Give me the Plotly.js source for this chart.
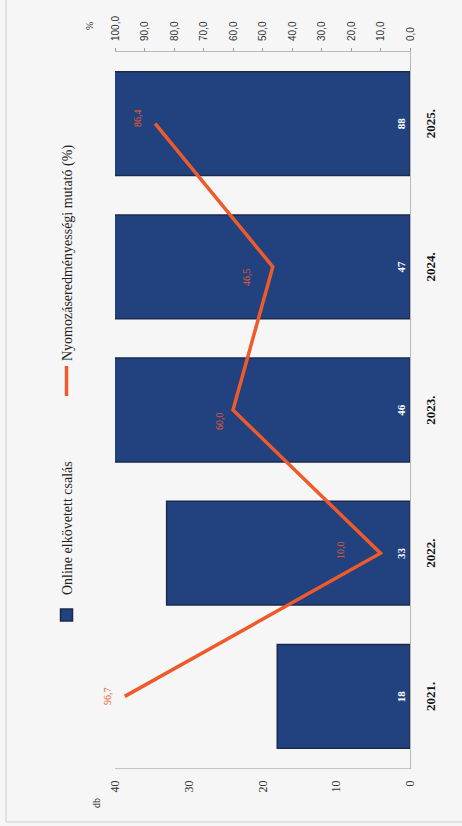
<!DOCTYPE html>
<html>
<head>
<meta charset="utf-8">
<script src="https://cdn.plot.ly/plotly-3.0.1.min.js"></script>
<style>
  html, body { margin: 0; padding: 0; width: 462px; height: 826px; overflow: hidden; background: #f6f6f6; }
  #chart {
    position: absolute; left: 0; top: 0;
    width: 826px; height: 462px;
    transform-origin: 0 0;
    transform: translate(0, 826px) rotate(-90deg);
  }
</style>
</head>
<body>
<div id="chart"></div>
<script>
// ---- data ----
const years = ["2021.", "2022.", "2023.", "2024.", "2025."];
const fraudCounts = [18, 33, 46, 47, 88];
const successRate = [96.7, 10.0, 60.0, 46.5, 86.4];
const barName = "Online elkövetett csalás";
const lineName = "Nyomozáseredményességi mutató (%)";
const leftTicks = [0, 10, 20, 30, 40];
const rightTicks = [0, 10, 20, 30, 40, 50, 60, 70, 80, 90, 100];

// ---- style ----
const serif = '"Liberation Serif", "Times New Roman", serif';
const sans = '"Liberation Sans", Arial, sans-serif';
const barColor = '#22417f';
const barEdge = '#1b2a4c';
const lineColor = '#ee5a2a';
const labelDY = [17, 40, 14, 26, 18];
const labelDX = [0, 3, -11, -10, 6];

const fmt = v => v.toFixed(1).replace('.', ',');

const bars = {
  type: 'bar', name: barName, x: years, y: fraudCounts, legend: 'legend',
  marker: { color: barColor, line: { color: barEdge, width: 1.5 } },
  text: fraudCounts.map(String), textposition: 'inside', insidetextanchor: 'start',
  textangle: 0, constraintext: 'none',
  textfont: { family: serif, size: 11, color: '#ffffff', weight: 'bold' },
  hoverinfo: 'skip'
};
const line = {
  type: 'scatter', mode: 'lines', name: lineName, x: years, y: successRate, yaxis: 'y2',
  legend: 'legend2',
  line: { color: lineColor, width: 3.5 },
  hoverinfo: 'skip'
};

// category axis: annotations use the category index
const annotations = successRate.map((v, i) => ({
  x: i, y: v, xref: 'x', yref: 'y2', text: fmt(v), showarrow: false,
  yshift: labelDY[i], xshift: labelDX[i],
  font: { family: serif, size: 10, color: lineColor }
}));
annotations.push({ xref: 'paper', yref: 'paper', x: -0.049, y: 1.064, text: 'db', showarrow: false,
  xanchor: 'center', yanchor: 'middle',
  font: { family: serif, size: 10, color: '#222' } });
annotations.push({ xref: 'paper', yref: 'paper', x: 1.036, y: 1.088, text: '%', showarrow: false,
  xanchor: 'center', yanchor: 'middle',
  font: { family: serif, size: 10, color: '#222' } });

const legendBase = {
  orientation: 'h', y: 1.163, xanchor: 'left', yanchor: 'middle',
  font: { family: serif, size: 14, color: '#222' }, bgcolor: 'rgba(0,0,0,0)'
};

const layout = {
  width: 826, height: 462,
  margin: { l: 58, r: 52, t: 115, b: 52, pad: 0 },
  paper_bgcolor: '#f6f6f6', plot_bgcolor: '#f6f6f6',
  separators: ',.',
  bargap: 0.275,
  showlegend: true,
  legend: Object.assign({}, legendBase, { x: 0.1857 }),
  legend2: Object.assign({}, legendBase, { x: 0.5125 }),
  xaxis: {
    type: 'category', range: [-0.5, 4.5], showgrid: false, zeroline: false,
    showline: true, linecolor: '#b8b8b8', linewidth: 1, ticks: '',
    ticklabelstandoff: 8,
    tickfont: { family: serif, size: 13, color: '#111', weight: 'bold' }
  },
  yaxis: {
    range: [0, 40], tickvals: leftTicks, showgrid: false, zeroline: false,
    showline: true, linecolor: '#c4c4c4', linewidth: 1, ticks: '',
    ticklabelstandoff: 9,
    tickfont: { family: serif, size: 12, color: '#333' }
  },
  yaxis2: {
    range: [0, 100], tickvals: rightTicks, tickformat: '.1f', overlaying: 'y', side: 'right',
    showgrid: false, zeroline: false, showline: true, linecolor: '#b8b8b8', linewidth: 1,
    ticks: 'outside', ticklen: 3, tickcolor: '#999',
    ticklabelstandoff: 5,
    tickfont: { family: sans, size: 10, color: '#333' }
  },
  shapes: [{
    type: 'rect', xref: 'paper', yref: 'paper',
    x0: -0.0754, x1: 1.12, y0: -0.25, y1: 1.3695,
    line: { color: '#cccccc', width: 1 }, fillcolor: 'rgba(0,0,0,0)'
  }],
  annotations: annotations
};

Plotly.newPlot('chart', [bars, line], layout, { staticPlot: true, displayModeBar: false });
</script>
</body>
</html>
